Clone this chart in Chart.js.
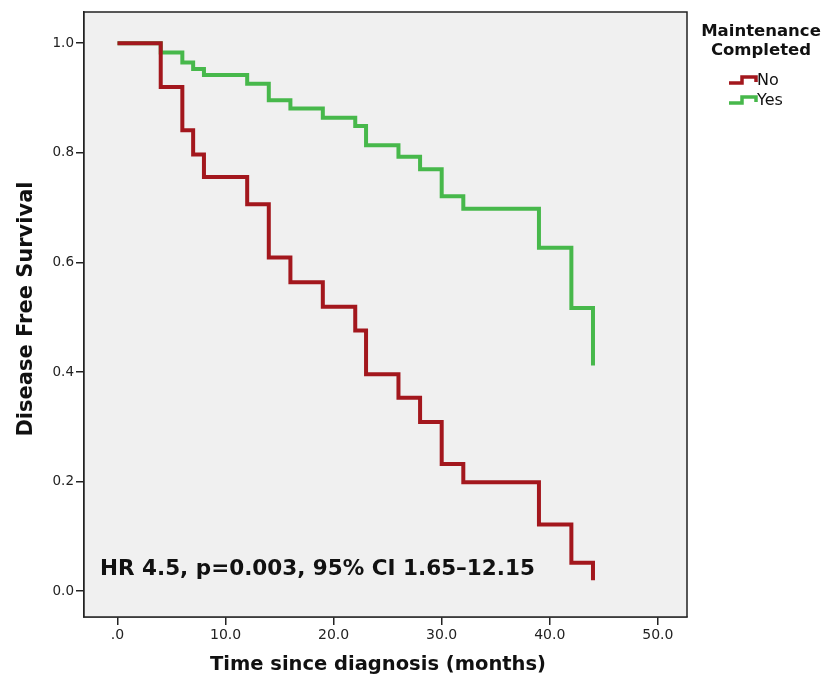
<!DOCTYPE html>
<html>
<head>
<meta charset="utf-8">
<script src="https://cdn.jsdelivr.net/npm/chart.js@4.4.0/dist/chart.umd.min.js"></script>
<style>
  html, body { margin: 0; padding: 0; background: #ffffff; }
  #wrap { width: 826px; height: 686px; position: relative; }
</style>
</head>
<body>
<div id="wrap"><canvas id="c" width="826" height="686"></canvas></div>
<script>
// ---- data ----
const times = [0, 4, 6, 7, 8, 12, 14, 16, 19, 22, 23, 26, 28, 30, 32, 39, 42, 44];
const survivalNo  = [1.0, 0.920, 0.841, 0.797, 0.756, 0.706, 0.609, 0.564, 0.519, 0.476, 0.396, 0.353, 0.309, 0.232, 0.199, 0.122, 0.052, 0.020];
const survivalYes = [1.0, 0.983, 0.965, 0.953, 0.942, 0.926, 0.896, 0.881, 0.864, 0.849, 0.814, 0.793, 0.770, 0.721, 0.698, 0.627, 0.517, 0.412];
const seriesLabels = ['No', 'Yes'];
const xTicks = [0, 10, 20, 30, 40, 50];
const xTickLabels = ['.0', '10.0', '20.0', '30.0', '40.0', '50.0'];
const yTicks = [0, 0.2, 0.4, 0.6, 0.8, 1.0];
const yTickLabels = ['0.0', '0.2', '0.4', '0.6', '0.8', '1.0'];
const legendTitle = ['Maintenance', 'Completed'];
const xTitle = 'Time since diagnosis (months)';
const yTitle = 'Disease Free Survival';
const annotationText = 'HR 4.5, p=0.003, 95% CI 1.65\u201312.15';

const RED = '#a3171d';
const GREEN = '#47b84b';
const FONT = '"DejaVu Sans", "Open Sans", sans-serif';

const toPoints = (ys) => times.map((t, i) => ({ x: t, y: ys[i] }));

const decorPlugin = {
  id: 'decor',
  beforeDatasetsDraw(chart) {
    const { ctx, chartArea: a } = chart;
    ctx.save();
    ctx.fillStyle = '#f0f0f0';
    ctx.fillRect(a.left, a.top, a.right - a.left, a.bottom - a.top);
    ctx.restore();
  },
  afterDraw(chart) {
    const { ctx, chartArea: a } = chart;
    ctx.save();
    // frame
    ctx.strokeStyle = '#222';
    ctx.lineWidth = 1.5;
    ctx.strokeRect(a.left, a.top, a.right - a.left, a.bottom - a.top);

    // annotation
    ctx.fillStyle = '#111';
    ctx.font = 'bold 21.5px ' + FONT;
    ctx.textBaseline = 'middle';
    ctx.textAlign = 'left';
    ctx.fillText(annotationText, 100, 569);

    // axis titles
    ctx.font = 'bold 19.5px ' + FONT;
    ctx.textAlign = 'center';
    ctx.fillText(xTitle, 378, 665);
    ctx.save();
    ctx.translate(27, 309);
    ctx.rotate(-Math.PI / 2);
    ctx.font = 'bold 21px ' + FONT;
    ctx.fillText(yTitle, 0, 0);
    ctx.restore();

    // legend
    ctx.font = 'bold 16.5px ' + FONT;
    ctx.textAlign = 'center';
    ctx.fillText(legendTitle[0], 761, 32);
    ctx.fillText(legendTitle[1], 761, 51);
    const colors = [RED, GREEN];
    const rowY = [80, 100];
    ctx.font = '16px ' + FONT;
    ctx.textAlign = 'left';
    chart.data.datasets.forEach((ds, i) => {
      const y = rowY[i];
      ctx.strokeStyle = colors[i];
      ctx.lineWidth = 3.5;
      ctx.beginPath();
      ctx.moveTo(729, y + 3);
      ctx.lineTo(742, y + 3);
      ctx.lineTo(742, y - 3);
      ctx.lineTo(756, y - 3);
      ctx.lineTo(756, y + 2);
      ctx.stroke();
      ctx.fillStyle = '#111';
      ctx.fillText(ds.label, 757, y + 1);
    });
    ctx.restore();
  }
};

new Chart(document.getElementById('c'), {
  type: 'line',
  data: {
    datasets: [
      { label: seriesLabels[0], data: toPoints(survivalNo), borderColor: RED, borderWidth: 4, stepped: true, pointRadius: 0, fill: false, borderJoinStyle: 'miter', borderCapStyle: 'butt' },
      { label: seriesLabels[1], data: toPoints(survivalYes), borderColor: GREEN, borderWidth: 4, stepped: true, pointRadius: 0, fill: false, borderJoinStyle: 'miter', borderCapStyle: 'butt' }
    ]
  },
  options: {
    responsive: false,
    animation: false,
    layout: { padding: { left: 0, right: 139, top: 12, bottom: 0 } },
    plugins: { legend: { display: false }, tooltip: { enabled: false } },
    scales: {
      x: {
        type: 'linear',
        min: -3.1,
        max: 52.7,
        afterFit(s) { s.height = 69; },
        afterBuildTicks(s) { s.ticks = xTicks.map(v => ({ value: v })); },
        ticks: {
          callback: (v) => { const i = xTicks.indexOf(v); return i >= 0 ? xTickLabels[i] : ''; },
          color: '#222', font: { family: FONT, size: 14 }, padding: 2, maxRotation: 0, autoSkip: false
        },
        grid: { drawOnChartArea: false, drawTicks: true, tickLength: 8, color: '#222', lineWidth: 1.5 },
        border: { display: true, color: '#222', width: 1.5 }
      },
      y: {
        type: 'linear',
        min: -0.047,
        max: 1.057,
        afterFit(s) { s.width = 84; },
        afterBuildTicks(s) { s.ticks = yTicks.map(v => ({ value: v })); },
        ticks: {
          callback: (v) => { const i = yTicks.findIndex(t => Math.abs(t - v) < 1e-9); return i >= 0 ? yTickLabels[i] : ''; },
          color: '#222', font: { family: FONT, size: 13.5 }, padding: 2, autoSkip: false
        },
        grid: { drawOnChartArea: false, drawTicks: true, tickLength: 8, color: '#222', lineWidth: 1.5 },
        border: { display: true, color: '#222', width: 1.5 }
      }
    }
  },
  plugins: [decorPlugin]
});
</script>
</body>
</html>
